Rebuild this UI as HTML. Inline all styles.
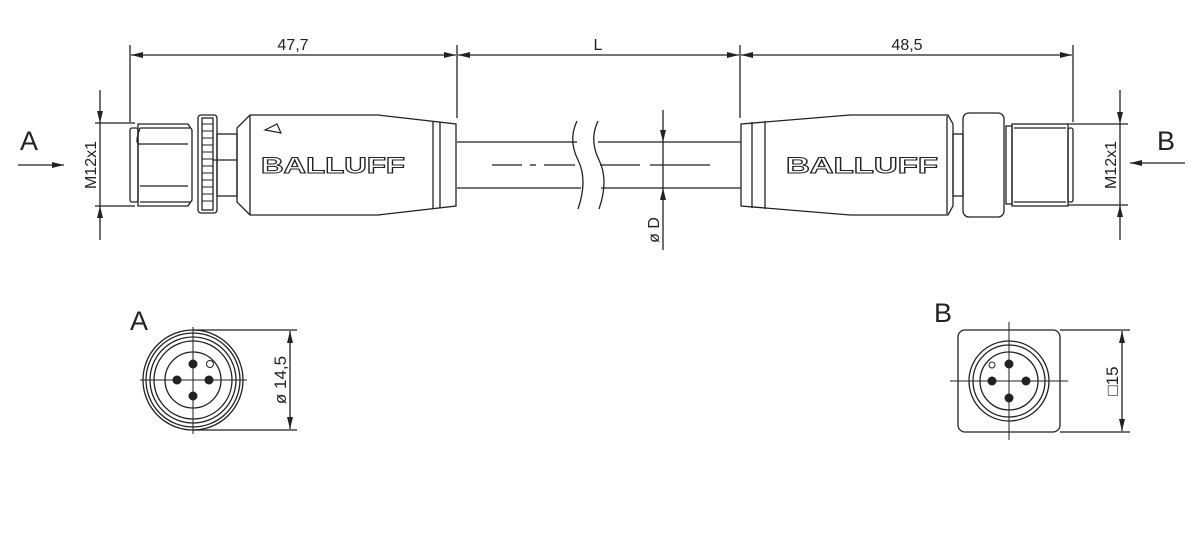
<!DOCTYPE html>
<html><head><meta charset="utf-8"><style>html,body{margin:0;padding:0;background:#fff}svg{display:block}</style></head><body>
<svg width="1200" height="548" viewBox="0 0 1200 548" xmlns="http://www.w3.org/2000/svg" font-family="Liberation Sans, sans-serif">
<defs>
<marker id="ar" viewBox="0 0 12 6" refX="12" refY="3" markerWidth="12" markerHeight="6" orient="auto-start-reverse" markerUnits="userSpaceOnUse"><path d="M0,0 L12,3 L0,6 z" fill="#222"/></marker>
</defs>
<g stroke="#222" stroke-width="1.3" fill="none">
<line x1="130" y1="45" x2="130" y2="122"/>
<line x1="457" y1="45" x2="457" y2="118"/>
<line x1="740" y1="45" x2="740" y2="118"/>
<line x1="1073" y1="45" x2="1073" y2="122"/>
<line x1="131" y1="55" x2="456" y2="55" marker-start="url(#ar)" marker-end="url(#ar)"/>
<line x1="458" y1="55" x2="739" y2="55" marker-start="url(#ar)" marker-end="url(#ar)"/>
<line x1="741" y1="55" x2="1072" y2="55" marker-start="url(#ar)" marker-end="url(#ar)"/>

<line x1="95" y1="123" x2="135" y2="123"/>
<line x1="95" y1="206" x2="135" y2="206"/>
<line x1="100" y1="90" x2="100" y2="123" marker-end="url(#ar)"/>
<line x1="100" y1="240" x2="100" y2="206" marker-end="url(#ar)"/>
<line x1="100" y1="123" x2="100" y2="206"/>
<line x1="1068" y1="124" x2="1128" y2="124"/>
<line x1="1068" y1="205" x2="1128" y2="205"/>
<line x1="1120" y1="90" x2="1120" y2="124" marker-end="url(#ar)"/>
<line x1="1120" y1="240" x2="1120" y2="205" marker-end="url(#ar)"/>
<line x1="1120" y1="124" x2="1120" y2="205"/>
<line x1="18" y1="165" x2="64" y2="165" marker-end="url(#ar)"/>
<line x1="1185" y1="163" x2="1130" y2="163" marker-end="url(#ar)"/>

<rect x="130" y="128" width="8" height="74" rx="2"/>
<path d="M138,124 L188,124 L192,130 L192,200 L188,206 L138,206 Z"/>
<line x1="140" y1="128" x2="190" y2="128"/>
<line x1="140" y1="202" x2="190" y2="202"/>
<path d="M140,128 Q134,145 140,144 L188,144 M140,186 L188,186"/>
<rect x="198" y="115" width="19" height="98" rx="3"/>
<rect x="202" y="118" width="11" height="92"/>
<g stroke-width="1">
<line x1="202" y1="124" x2="213" y2="124"/><line x1="202" y1="131" x2="213" y2="131"/><line x1="202" y1="138" x2="213" y2="138"/><line x1="202" y1="145" x2="213" y2="145"/><line x1="202" y1="152" x2="213" y2="152"/><line x1="202" y1="159" x2="213" y2="159"/><line x1="202" y1="166" x2="213" y2="166"/><line x1="202" y1="173" x2="213" y2="173"/><line x1="202" y1="180" x2="213" y2="180"/><line x1="202" y1="187" x2="213" y2="187"/><line x1="202" y1="194" x2="213" y2="194"/><line x1="202" y1="201" x2="213" y2="201"/>
</g>
<line x1="213" y1="160" x2="237" y2="160"/>
<rect x="217" y="134" width="20" height="62"/>
<path d="M237,128 L250,115 L378,115 L456,124 L456,206 L378,215 L250,215 L237,202 Z"/>
<line x1="250" y1="115" x2="250" y2="215"/>
<line x1="433" y1="121" x2="433" y2="209"/>
<line x1="440" y1="122" x2="440" y2="208"/>
<path d="M265,130 L277,124 L281,133 Z" stroke-width="1.2"/>

<line x1="457" y1="142" x2="577" y2="142"/>
<line x1="457" y1="188" x2="581" y2="188"/>
<line x1="598" y1="142" x2="741" y2="142"/>
<line x1="601" y1="188" x2="741" y2="188"/>
<path d="M577,121 Q568,140 578,160 Q588,180 578,209"/>
<path d="M598,121 Q589,140 599,160 Q609,180 599,209"/>
<line x1="492" y1="165" x2="522" y2="165"/>
<line x1="530" y1="165" x2="536" y2="165"/>
<line x1="544" y1="165" x2="575" y2="165"/>
<line x1="600" y1="165" x2="640" y2="165"/>
<line x1="650" y1="165" x2="710" y2="165"/>
<line x1="663" y1="110" x2="663" y2="142" marker-end="url(#ar)"/>
<line x1="663" y1="250" x2="663" y2="188" marker-end="url(#ar)"/>
<line x1="663" y1="142" x2="663" y2="188"/>

<path d="M741,124 L850,115 L948,115 L953,124 L953,206 L948,215 L850,215 L741,206 Z"/>
<line x1="752" y1="122" x2="752" y2="208"/>
<line x1="765" y1="121" x2="765" y2="209"/>
<line x1="947" y1="116" x2="947" y2="214"/>
<rect x="953" y="134" width="10" height="62"/>
<rect x="963" y="113" width="41" height="104" rx="6"/>
<rect x="1006" y="126" width="6" height="78"/>
<rect x="1012" y="124" width="56" height="82"/>
<line x1="1014" y1="128" x2="1066" y2="128"/>
<line x1="1014" y1="202" x2="1066" y2="202"/>
<rect x="1068" y="128" width="5" height="74" rx="2"/>

<circle cx="193" cy="380" r="50"/>
<circle cx="193" cy="380" r="47"/>
<circle cx="193" cy="380" r="43"/>
<circle cx="193" cy="380" r="39"/>
<circle cx="193" cy="380" r="28"/>
<circle cx="210" cy="364" r="3.5" stroke-width="1"/>
<line x1="140" y1="380" x2="247" y2="380" stroke-width="1"/>
<line x1="193" y1="327" x2="193" y2="434" stroke-width="1"/>
<line x1="193" y1="330" x2="297" y2="330"/>
<line x1="193" y1="430" x2="297" y2="430"/>
<line x1="290" y1="331" x2="290" y2="429" marker-start="url(#ar)" marker-end="url(#ar)"/>

<rect x="958" y="330" width="102" height="102" rx="7"/>
<circle cx="1009" cy="381" r="40"/>
<circle cx="1009" cy="381" r="36"/>
<circle cx="1009" cy="381" r="29"/>
<circle cx="992" cy="365" r="3" stroke-width="1"/>
<line x1="950" y1="381" x2="1068" y2="381" stroke-width="1"/>
<line x1="1009" y1="322" x2="1009" y2="440" stroke-width="1"/>
<line x1="1060" y1="330" x2="1130" y2="330"/>
<line x1="1060" y1="432" x2="1130" y2="432"/>
<line x1="1122" y1="331" x2="1122" y2="431" marker-start="url(#ar)" marker-end="url(#ar)"/>
</g>
<g fill="#222">
<circle cx="193" cy="364" r="4.5"/><circle cx="193" cy="396" r="4.5"/><circle cx="177" cy="380" r="4.5"/><circle cx="209" cy="380" r="4.5"/>
<circle cx="1009" cy="364" r="4.5"/><circle cx="1009" cy="398" r="4.5"/><circle cx="992" cy="381" r="4.5"/><circle cx="1026" cy="381" r="4.5"/>
</g>
<g fill="#222" font-size="16">
<text x="293" y="50" text-anchor="middle">47,7</text>
<text x="598" y="50" text-anchor="middle">L</text>
<text x="907" y="50" text-anchor="middle">48,5</text>
<text transform="translate(96,165) rotate(-90)" text-anchor="middle">M12x1</text>
<text transform="translate(1116,165) rotate(-90)" text-anchor="middle">M12x1</text>
<text transform="translate(659,230) rotate(-90)" text-anchor="middle">ø D</text>
<text transform="translate(286,380) rotate(-90)" text-anchor="middle" font-size="17">ø 14,5</text>
<text transform="translate(1118,381) rotate(-90)" text-anchor="middle" font-size="17">□15</text>
</g>
<g fill="#222" font-size="27">
<text x="20" y="150">A</text>
<text x="1157" y="150">B</text>
<text x="130" y="330">A</text>
<text x="934" y="322">B</text>
</g>
<g fill="#fff" stroke="#222" stroke-width="1" font-size="22" font-weight="bold">
<text x="261" y="173" textLength="144" lengthAdjust="spacingAndGlyphs">BALLUFF</text>
<text x="786" y="173" textLength="152" lengthAdjust="spacingAndGlyphs">BALLUFF</text>
</g>
</svg>
</body></html>
